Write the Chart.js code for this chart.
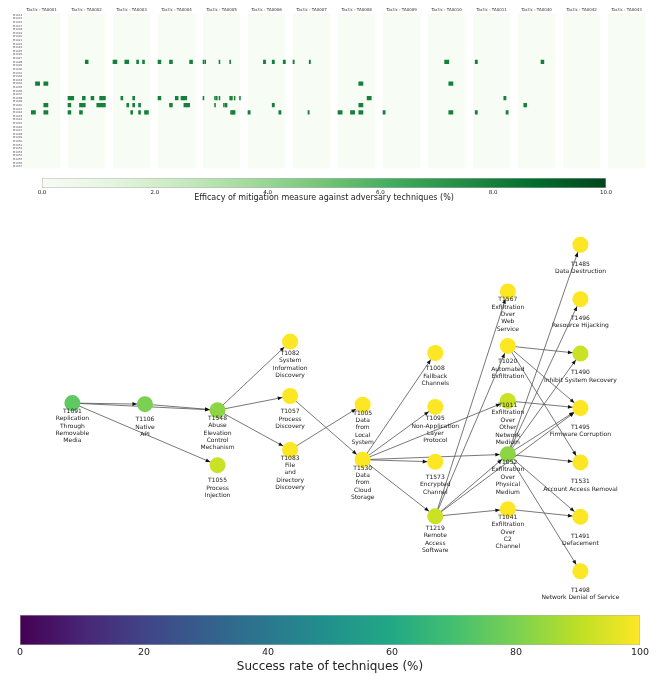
<!DOCTYPE html>
<html><head><meta charset="utf-8">
<script src="https://cdn.jsdelivr.net/npm/chart.js@4.4.1/dist/chart.umd.min.js"></script>
<style>
html,body{margin:0;padding:0;background:#fff;width:662px;height:674px;overflow:hidden;position:relative}
canvas{position:absolute;left:0}
</style></head><body>
<canvas id="heat" style="top:0px" width="662" height="172"></canvas>
<canvas id="cbGreen" style="top:172px" width="662" height="31"></canvas>
<canvas id="net" style="top:205px" width="662" height="400"></canvas>
<canvas id="cbViridis" style="top:605px" width="662" height="69"></canvas>
<script>
// ---------------- data ----------------
const tactics = ['TA0001','TA0002','TA0003','TA0004','TA0005','TA0006','TA0007','TA0008','TA0009','TA0010','TA0011','TA0040','TA0042','TA0043'];
const techniquesPerTactic = [9,13,19,13,42,17,30,9,17,9,17,13,8,10];
const mitigations = ['M1013','M1015','M1016','M1017','M1018','M1019','M1020','M1021','M1022','M1024','M1025','M1026','M1027','M1028','M1029','M1030','M1031','M1032','M1033','M1034','M1035','M1036','M1037','M1038','M1039','M1040','M1041','M1042','M1043','M1044','M1045','M1046','M1047','M1048','M1049','M1050','M1051','M1052','M1053','M1054','M1055','M1056','M1057'];
// [tactic index, mitigation index, technique column, efficacy]
const heatCells = [
 [0,19,3,8],[0,19,5,8],[0,25,5,8],[0,27,2,8],[0,27,5,8],
 [1,13,6,8],[1,23,0,8],[1,23,1,8],[1,23,5,8],[1,23,8,8],[1,23,11,8],[1,23,12,8],
 [1,25,0,8],[1,25,4,8],[1,25,5,8],[1,25,10,8],[1,25,11,8],[1,25,12,8],[1,27,0,8],[1,27,4,8],
 [2,13,0,8],[2,13,1,8],[2,13,6,8],[2,13,7,8],[2,13,12,8],[2,13,15,8],[2,23,4,8],[2,23,10,8],
 [2,25,7,8],[2,25,10,8],[2,25,13,8],[2,27,9,8],[2,27,13,8],[2,27,16,8],[2,27,17,8],
 [3,13,0,8],[3,13,4,8],[3,13,11,8],[3,23,0,8],[3,23,6,8],[3,23,8,8],[3,23,9,8],[3,25,4,8],[3,25,9,8],[3,25,10,8],
 [4,13,0,8],[4,13,2,8],[4,13,18,8],[4,13,30,8],
 [4,23,0,8],[4,23,13,8],[4,23,15,8],[4,23,18,8],[4,23,30,8],[4,23,31,8],[4,23,32,8],[4,23,35,8],[4,23,41,8],
 [4,25,13,8],[4,25,23,8],[4,25,25,8],[4,25,26,8],
 [4,27,31,8],[4,27,32,8],[4,27,33,8],[4,27,34,8],[4,27,35,8],
 [5,13,7,8],[5,13,11,8],[5,13,16,8],[5,25,11,8],[5,27,0,8],[5,27,14,8],
 [6,13,0,8],[6,13,13,8],[6,27,12,8],
 [7,19,5,8],[7,23,7,8],[7,25,5,8],[7,27,0,8],[7,27,3,8],[7,27,5,8],
 [8,27,0,8],
 [9,13,4,8],[9,19,5,8],[9,27,5,8],
 [10,13,1,8],[10,23,14,8],[10,27,1,8],[10,27,15,8],
 [11,13,8,8],[11,25,2,8]
];
const efficacyTicks = [0,2,4,6,8,10];

const nodeIds = ['T1091','T1106','T1548','T1055','T1082','T1057','T1083','T1005','T1530','T1008','T1095','T1573','T1219','T1567','T1020','T1011','T1052','T1041','T1485','T1496','T1490','T1495','T1531','T1491','T1498'];
const nodeNames = [
 ['Replication','Through','Removable','Media'],['Native','API'],['Abuse','Elevation','Control','Mechanism'],['Process','Injection'],
 ['System','Information','Discovery'],['Process','Discovery'],['File','and','Directory','Discovery'],
 ['Data','from','Local','System'],['Data','from','Cloud','Storage'],
 ['Fallback','Channels'],['Non-Application','Layer','Protocol'],['Encrypted','Channel'],['Remote','Access','Software'],
 ['Exfiltration','Over','Web','Service'],['Automated','Exfiltration'],['Exfiltration','Over','Other','Network','Medium'],['Exfiltration','Over','Physical','Medium'],['Exfiltration','Over','C2','Channel'],
 ['Data Destruction'],['Resource Hijacking'],['Inhibit System Recovery'],['Firmware Corruption'],['Account Access Removal'],['Defacement'],['Network Denial of Service']
];
const nodeStage = [0,1,2,2,3,3,3,4,4,5,5,5,5,6,6,6,6,6,7,7,7,7,7,7,7];
const nodeLevel = [0.09,0.07,-0.04,-1.05,1.22,0.22,-0.77,0.06,-0.95,1.01,0.02,-0.99,-1.99,2.14,1.14,0.13,-0.85,-1.86,3.0,2.0,1.0,0.0,-1.0,-2.0,-3.0];
const successRate = [75,80,83,92,100,100,100,100,100,100,100,100,92,100,100,92,83,100,100,100,92,100,100,100,100];
const edges = [
 ['T1091','T1106'],['T1091','T1548'],['T1091','T1055'],['T1106','T1548'],
 ['T1548','T1082'],['T1548','T1057'],['T1548','T1083'],
 ['T1083','T1005'],['T1057','T1530'],
 ['T1530','T1008'],['T1530','T1095'],['T1530','T1573'],['T1530','T1219'],['T1530','T1011'],['T1530','T1052'],
 ['T1219','T1567'],['T1219','T1020'],['T1219','T1052'],['T1219','T1041'],['T1219','T1495'],
 ['T1020','T1490'],['T1020','T1495'],['T1020','T1531'],['T1011','T1495'],
 ['T1052','T1485'],['T1052','T1496'],['T1052','T1490'],['T1052','T1495'],['T1052','T1531'],['T1052','T1491'],['T1052','T1498'],
 ['T1041','T1491']
];
const successTicks = [0,20,40,60,80,100];

// ---------------- styles / helpers ----------------
const greensStops = ['#f7fcf5','#e5f5e0','#c7e9c0','#a1d99b','#74c476','#41ab5d','#238b45','#006d2c','#00441b'];
const viridisStops = ['#440154','#482475','#414487','#355f8d','#2a788e','#21918c','#22a884','#44bf70','#7ad151','#bddf26','#fde725'];
function hex2rgb(h){return [1,3,5].map(i=>parseInt(h.slice(i,i+2),16));}
function cmap(stops,t){t=Math.max(0,Math.min(1,t));const s=t*(stops.length-1);const i=Math.min(Math.floor(s),stops.length-2);const f=s-i;const a=hex2rgb(stops[i]),b=hex2rgb(stops[i+1]);return 'rgb('+a.map((v,k)=>Math.round(v+(b[k]-v)*f)).join(',')+')';}
Chart.defaults.font.family = "'DejaVu Sans', sans-serif";
Chart.defaults.color = '#222';

const PITCH = 45, PANEL_W = 37.4;
function cellX(c){const w=PANEL_W/techniquesPerTactic[c[0]];const x0=c[0]*PITCH+c[2]*w;return [x0,x0+w];}

const panelBg = {id:'panelBg', beforeDatasetsDraw(chart){
  const {ctx, chartArea:a, scales:{x}} = chart; ctx.save(); ctx.fillStyle = cmap(greensStops,0);
  tactics.forEach((t,i)=>{const l=x.getPixelForValue(i*PITCH), r=x.getPixelForValue(i*PITCH+PANEL_W); ctx.fillRect(l,a.top,r-l,a.bottom-a.top);});
  ctx.restore();}};

// ---------------- heatmap ----------------
new Chart(document.getElementById('heat'), {
  type:'bar',
  data:{labels:mitigations, datasets:[{
    data: heatCells.map(c=>({x:cellX(c), y:mitigations[c[1]], v:c[3]})),
    backgroundColor: ctx => cmap(greensStops, ctx.raw ? ctx.raw.v/10 : 0),
    borderWidth:0, categoryPercentage:1, barPercentage:1
  }]},
  options:{indexAxis:'y', responsive:false, animation:false, events:[],
    layout:{autoPadding:false, padding:{left:0,right:16.6,top:0,bottom:3.7}},
    plugins:{legend:{display:false}, tooltip:{enabled:false}},
    scales:{
      x:{type:'linear', position:'top', min:0, max:(tactics.length-1)*PITCH+PANEL_W,
        grid:{display:false, drawTicks:false}, border:{display:false},
        ticks:{autoSkip:false, maxRotation:0, padding:1.3, font:{size:4}, color:'#333', callback:(v,i)=>'Tactic : '+tactics[i]},
        afterBuildTicks:s=>{s.ticks = tactics.map((t,i)=>({value:i*PITCH+PANEL_W/2}));},
        afterFit:s=>{s.height=13.3;}},
      y:{type:'category', offset:true, grid:{display:false, drawTicks:false}, border:{display:false},
        ticks:{autoSkip:false, padding:0.6, font:{size:2.8}, color:'#555'},
        afterFit:s=>{s.width=23;}}
    }},
  plugins:[panelBg]
});

// ---------------- colorbars ----------------
function colorbar(id, stops, max, ticks, fmt, title, pad, axisH, tickFont, titleFont, tickPad){
  new Chart(document.getElementById(id), {
    type:'bar',
    data:{labels:[''], datasets:[{data:[[0,max]],
      backgroundColor: ctx => {const ch=ctx.chart; const a=ch.chartArea; if(!a) return stops[0];
        const g=ch.ctx.createLinearGradient(ch.scales.x.getPixelForValue(0),0,ch.scales.x.getPixelForValue(max),0);
        stops.forEach((c,i)=>g.addColorStop(i/(stops.length-1),c)); return g;},
      borderColor:'rgba(0,0,0,0.3)', borderWidth:0.8, borderSkipped:false, categoryPercentage:1, barPercentage:1}]},
    options:{indexAxis:'y', responsive:false, animation:false, events:[],
      layout:{autoPadding:false, padding:pad},
      plugins:{legend:{display:false}, tooltip:{enabled:false}},
      scales:{
        x:{type:'linear', min:0, max:max, grid:{display:false, drawTicks:false}, border:{display:false},
          afterBuildTicks:s=>{s.ticks = ticks.map(v=>({value:v}));},
          ticks:{autoSkip:false, maxRotation:0, padding:tickPad, font:{size:tickFont}, color:'#222', callback:fmt},
          title:{display:true, text:title, font:{size:titleFont}, color:'#222', padding:0},
          afterFit:s=>{s.height=axisH;}},
        y:{display:false, offset:true}
      }}
  });
}
colorbar('cbGreen', greensStops, 10, efficacyTicks, v=>v.toFixed(1), 'Efficacy of mitigation measure against adversary techniques (%)',
  {left:42,right:56,top:6,bottom:0}, 15, 5.5, 8, 1.2);
colorbar('cbViridis', viridisStops, 100, successTicks, v=>String(v), 'Success rate of techniques (%)',
  {left:20,right:22,top:10,bottom:0}, 29, 9.5, 12, 1.5);

// ---------------- network ----------------
const idx = id => nodeIds.indexOf(id);
const nodePt = i => ({x:nodeStage[i], y:nodeLevel[i]});
const NODE_R = 8;
const netDecor = {id:'netDecor', afterDatasetsDraw(chart){
  const {ctx, scales:{x,y}} = chart;
  const px = i => [x.getPixelForValue(nodeStage[i]), y.getPixelForValue(nodeLevel[i])];
  ctx.save();
  ctx.fillStyle = '#111';
  edges.forEach(([s,t])=>{
    const [sx,sy]=px(idx(s)), [tx,ty]=px(idx(t));
    const d=Math.hypot(sx-tx,sy-ty), ux=(sx-tx)/d, uy=(sy-ty)/d;
    const tipX=tx+ux*NODE_R, tipY=ty+uy*NODE_R, L=4.5, hw=1.9;
    const bx=tipX+ux*L, by=tipY+uy*L;
    ctx.beginPath(); ctx.moveTo(tipX,tipY); ctx.lineTo(bx-uy*hw, by+ux*hw); ctx.lineTo(bx+uy*hw, by-ux*hw); ctx.closePath(); ctx.fill();
  });
  ctx.font = "6px 'DejaVu Sans', sans-serif"; ctx.fillStyle = '#1a1a1a'; ctx.textAlign='center'; ctx.textBaseline='middle';
  const LH = 7.35;
  nodeIds.forEach((id,i)=>{
    const lines=[id].concat(nodeNames[i]); const [cx,cy]=px(i);
    const c0 = cy + 23 - (lines.length-1)*LH/2;
    lines.forEach((ln,k)=>ctx.fillText(ln, cx, c0+k*LH));
  });
  ctx.restore();
}};
const netDatasets = [{
  type:'scatter', label:'techniques', order:0,
  data: nodeIds.map((id,i)=>nodePt(i)),
  pointRadius:NODE_R, pointHoverRadius:NODE_R, borderWidth:0,
  pointBackgroundColor: nodeIds.map((id,i)=>cmap(viridisStops, successRate[i]/100))
}].concat(edges.map(([s,t])=>({
  type:'scatter', order:1, showLine:true, data:[nodePt(idx(s)), nodePt(idx(t))],
  borderColor:'#555', borderWidth:0.8, pointRadius:0, pointHoverRadius:0, fill:false
})));
new Chart(document.getElementById('net'), {
  type:'scatter',
  data:{datasets:netDatasets},
  options:{responsive:false, animation:false, events:[],
    layout:{autoPadding:false, padding:0},
    plugins:{legend:{display:false}, tooltip:{enabled:false}},
    scales:{x:{type:'linear', display:false, min:-0.997, max:8.124}, y:{type:'linear', display:false, min:-3.62, max:3.73}}},
  plugins:[netDecor]
});
</script>
</body></html>
